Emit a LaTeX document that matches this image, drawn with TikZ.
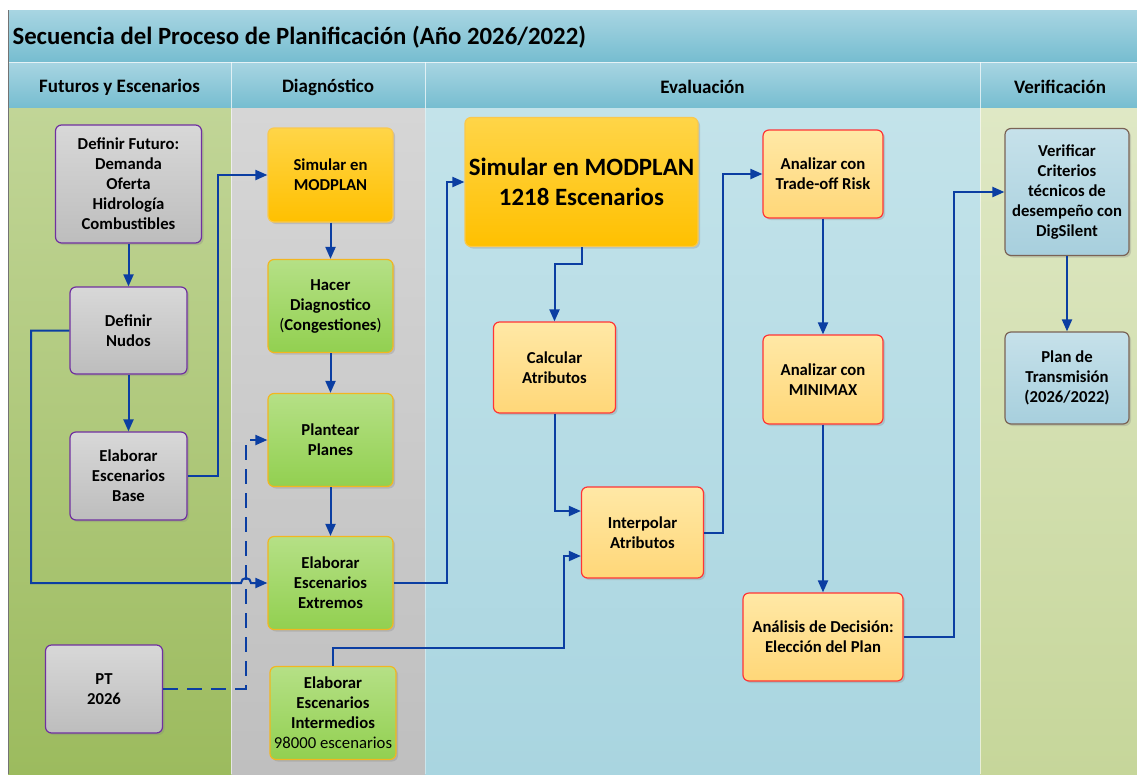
\documentclass[tikz,border=0pt]{standalone}
\usepackage{fontspec}
\setmainfont{Carlito}
\usetikzlibrary{arrows.meta,shadows}

% band colours
\definecolor{barTop}{HTML}{A8D5E2}
\definecolor{barBot}{HTML}{76BDD0}
\definecolor{futTop}{HTML}{C1D597}
\definecolor{futBot}{HTML}{9CBB5E}
\definecolor{diaTop}{HTML}{D6D6D6}
\definecolor{diaBot}{HTML}{BFBFBF}
\definecolor{evaTop}{HTML}{C3E3EA}
\definecolor{evaBot}{HTML}{A9D5E0}
\definecolor{verTop}{HTML}{DFE8C5}
\definecolor{verBot}{HTML}{C6D69A}
% box colours
\definecolor{grayTop}{HTML}{D8D8D8}
\definecolor{grayBot}{HTML}{BDBDBD}
\definecolor{purpleEdge}{HTML}{7030A0}
\definecolor{goldTop}{HTML}{FFD548}
\definecolor{goldBot}{HTML}{FFC000}
\definecolor{goldEdge}{HTML}{F9C84E}
\definecolor{leafTop}{HTML}{B5E086}
\definecolor{leafBot}{HTML}{92D050}
\definecolor{leafEdge}{HTML}{F2B620}
\definecolor{peachTop}{HTML}{FFE8A6}
\definecolor{peachBot}{HTML}{FFD778}
\definecolor{redEdge}{HTML}{FF3535}
\definecolor{skyTop}{HTML}{C6E1EA}
\definecolor{skyBot}{HTML}{A7CFDD}
\definecolor{brownEdge}{HTML}{7A6356}
\definecolor{flow}{HTML}{0B3EA2}

\tikzset{
  box/.style={rounded corners=6pt, line width=1.2pt, align=center,
    inner sep=2pt, font=\fontsize{16.7}{20}\selectfont\bfseries,
    drop shadow={opacity=0.28, shadow xshift=2pt, shadow yshift=-2pt}},
  graybox/.style={box, draw=purpleEdge, top color=grayTop, bottom color=grayBot},
  goldbox/.style={box, draw=goldEdge, top color=goldTop, bottom color=goldBot},
  leafbox/.style={box, draw=leafEdge, top color=leafTop, bottom color=leafBot},
  peachbox/.style={box, draw=redEdge, top color=peachTop, bottom color=peachBot},
  skybox/.style={box, draw=brownEdge, top color=skyTop, bottom color=skyBot},
  conn/.style={draw=flow, line width=2pt, -{Triangle[length=12pt,width=10pt]}},
  dashconn/.style={conn, dash pattern=on 15pt off 9pt},
  colhead/.style={font=\fontsize{19}{22}\selectfont\bfseries},
  sepline/.style={draw=white, opacity=0.7, line width=1pt}
}

\begin{document}
\begin{tikzpicture}[x=1pt, y=-1pt]
\useasboundingbox (0,0) rectangle (1137,774);
\fill[white] (0,0) rectangle (1137,774);

% title bar
\shade[top color=barTop, bottom color=barBot] (8,10) rectangle (1137,62);
\node[anchor=west, font=\fontsize{24.8}{28}\selectfont\bfseries] (title) at (9,37)
  {Secuencia del Proceso de Planificación (Año 2026/2022)};

% column headers
\shade[top color=barTop, bottom color=barBot] (8,62) rectangle (1137,108);
\draw[sepline] (8,62) -- (1137,62);
\foreach \xs in {231.5,425,980} \draw[sepline] (\xs,62) -- (\xs,108);
\node[colhead] (h1) at (119.5,87) {Futuros y Escenarios};
\node[colhead] (h2) at (328,87) {Diagnóstico};
\node[colhead] (h3) at (702.5,87) {Evaluación};
\node[colhead] (h4) at (1060,87) {Verificación};

% column bodies
\shade[top color=futTop, bottom color=futBot] (8,108) rectangle (231.5,774);
\shade[top color=diaTop, bottom color=diaBot] (231.5,108) rectangle (425,774);
\shade[top color=evaTop, bottom color=evaBot] (425,108) rectangle (980,774);
\shade[top color=verTop, bottom color=verBot] (980,108) rectangle (1137,774);
\draw[white, opacity=0.6, line width=0.8pt] (231.5,108) -- (231.5,774);
\draw[white, opacity=0.4, line width=0.8pt] (425,108) -- (425,774);
\draw[white, opacity=0.6, line width=0.8pt] (980,108) -- (980,774);
\draw[black!55, line width=0.8pt] (8.5,10) -- (8.5,774);

% Futuros y Escenarios
\node[graybox, minimum width=146pt, minimum height=118pt] (deffut) at (128.5,184)
  {Definir Futuro:\\Demanda\\Oferta\\Hidrología\\Combustibles};
\node[graybox, minimum width=117pt, minimum height=87pt] (nudos) at (128.5,330.5)
  {Definir\\Nudos};
\node[graybox, minimum width=117pt, minimum height=88pt] (base) at (128.5,476)
  {Elaborar\\Escenarios\\Base};
\node[graybox, minimum width=117pt, minimum height=88pt] (pt) at (104,689)
  {PT\\2026};

% Diagnóstico
\node[goldbox, minimum width=125pt, minimum height=94pt] (simmod) at (330.5,175)
  {Simular en\\MODPLAN};
\node[leafbox, minimum width=125pt, minimum height=93pt] (hacer) at (330.5,306)
  {Hacer\\Diagnostico\\{\mdseries(}Congestiones{\mdseries)}};
\node[leafbox, minimum width=125pt, minimum height=93pt] (plantear) at (330.5,440)
  {Plantear\\Planes};
\node[leafbox, minimum width=125pt, minimum height=93pt] (extremos) at (330.5,583)
  {Elaborar\\Escenarios\\Extremos};
\node[leafbox, minimum width=126pt, minimum height=93pt] (interm) at (333,713)
  {Elaborar\\Escenarios\\Intermedios\\{\mdseries 98000 escenarios}};

% Evaluación
\node[goldbox, minimum width=233pt, minimum height=129pt,
  font=\fontsize{24.9}{30}\selectfont\bfseries] (big) at (581.5,182)
  {Simular en MODPLAN\\1218 Escenarios};
\node[peachbox, minimum width=122pt, minimum height=91pt] (calc) at (554.5,367.5)
  {Calcular\\Atributos};
\node[peachbox, minimum width=122pt, minimum height=91pt] (interp) at (642.5,532.5)
  {Interpolar\\Atributos};
\node[peachbox, minimum width=120pt, minimum height=88pt] (trade) at (823,174)
  {Analizar con\\Trade-off Risk};
\node[peachbox, minimum width=120pt, minimum height=89pt] (minimax) at (823,379.5)
  {Analizar con\\MINIMAX};
\node[peachbox, minimum width=160pt, minimum height=88pt] (decision) at (823,637)
  {Análisis de Decisión:\\Elección del Plan};

% Verificación
\node[skybox, minimum width=124pt, minimum height=127pt] (verif) at (1067,192)
  {Verificar\\Criterios\\técnicos de\\desempeño con\\DigSilent};
\node[skybox, minimum width=124pt, minimum height=92pt] (plan) at (1067,378)
  {Plan de\\Transmisión\\(2026/2022)};

% flow
\draw[conn] (deffut.south) -- (nudos.north);
\draw[conn] (nudos.south) -- (base.north);
\draw[conn] (base.east) -- (218,476) |- (simmod.west);
\draw[conn] (nudos.west) -- (31,330.5) -- (31,583) -- (241,583)
  arc[start angle=180, end angle=360, radius=5] -- (extremos.west);
\draw[dashconn] (pt.east) -- (246,689) |- (plantear.west);
\draw[conn] (simmod.south) -- (hacer.north);
\draw[conn] (hacer.south) -- (plantear.north);
\draw[conn] (plantear.south) -- (extremos.north);
\draw[conn] (extremos.east) -- (447,583) |- (big.west);
\draw[conn] (interm.north) |- (564,648) -- (564,556) -- (interp.west |- 0,556);
\draw[conn] (big.south) -- (581.5,264) -| (calc.north);
\draw[conn] (calc.south) |- (interp.west |- 0,511);
\draw[conn] (interp.east) -- (723,532.5) |- (trade.west);
\draw[conn] (trade.south) -- (minimax.north);
\draw[conn] (minimax.south) -- (decision.north);
\draw[conn] (decision.east) -- (954,637) |- (verif.west);
\draw[conn] (verif.south) -- (plan.north);
\end{tikzpicture}
\end{document}
